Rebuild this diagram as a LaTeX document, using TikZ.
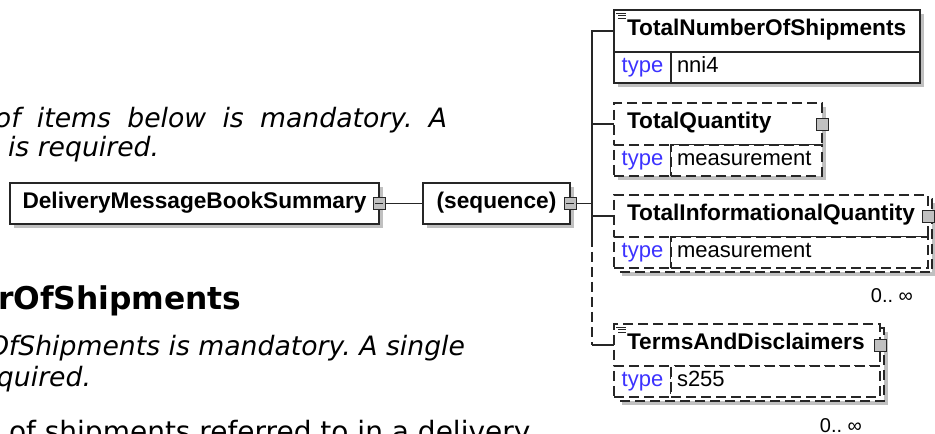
\documentclass[tikz,border=0pt]{standalone}
\usepackage{fontspec}
\setmainfont{Liberation Sans}
\newfontfamily\notefont{DejaVu Sans}
\usepackage{tikz}
\usetikzlibrary{positioning, backgrounds}

\definecolor{shadowgray}{RGB}{192,192,192}
\definecolor{btngray}{RGB}{192,192,192}
\definecolor{typeblue}{RGB}{60,50,255}

\begin{document}
\frenchspacing
\begin{tikzpicture}[
    x=0.75pt, y=-0.75pt,
    every node/.style={outer sep=0pt},
    box/.style={draw=black!85, fill=white, line width=0.9pt, text height=11.5pt, text depth=4pt,
                font=\fontsize{17}{19}\selectfont\bfseries},
    root/.style={box, minimum height=30.75pt, inner sep=0pt},
    hdr/.style={box, anchor=north west, minimum height=31.5pt, inner xsep=9.75pt, inner ysep=0pt,
                text width=#1, align=left},
    typ/.style={draw=black!85, fill=white, line width=0.9pt, anchor=north west, minimum width=42.75pt,
                minimum height=23.25pt, inner sep=0pt, text height=11.5pt, text depth=4pt,
                text=typeblue, font=\fontsize{16.5}{18}\selectfont},
    val/.style={draw=black!85, fill=white, line width=0.9pt, anchor=north west, minimum height=23.25pt,
                inner xsep=4.5pt, inner ysep=0pt, text height=11.5pt, text depth=4pt,
                text width=#1, align=left, font=\fontsize{16.5}{18}\selectfont},
    opt/.style={dash pattern=on 7.5pt off 3.75pt},
    btn/.style={draw=black!85, fill=btngray, line width=0.7pt, minimum size=9pt, inner sep=0pt},
    btnminus/.style={btn, path picture={\draw[line width=0.6pt]
                ([xshift=1.5pt]path picture bounding box.west) -- ([xshift=-1.5pt]path picture bounding box.east);}},
    wire/.style={draw=black!85, line width=0.9pt},
    shadowbox/.style={fill=shadowgray},
    docline/.style={draw=black!85, line width=0.6pt},
    mult/.style={anchor=base east, inner sep=0pt, font=\fontsize{15}{17}\selectfont},
    note/.style={anchor=base west, inner sep=0pt, font=\notefont\fontsize{20}{23}\selectfont\itshape},
    notehead/.style={note, font=\notefont\fontsize{23.5}{26}\selectfont\bfseries},
    plain/.style={note, font=\notefont\fontsize{21}{24}\selectfont},
]
\useasboundingbox (0,0) rectangle (935,434);

% --- Notes (left, cut by the frame) ---
\node[note]     (note1) at (-5,128)  {\makebox[339pt][s]{of items below is mandatory. A}};
\node[note]     (note2) at (8,157)   {is required.};
\node[notehead] (head)  at (-2,310)  {rOfShipments};
\node[note]     (desc1) at (-12,356) {OfShipments is mandatory. A single};
\node[note]     (desc2) at (-3,387)  {quired.};
\node[plain]    (desc3) at (9,441)   {of shipments referred to in a delivery};

% --- Root and sequence ---
\node[root, minimum width=276.75pt]               (dmbs) at (194.5,203.5) {DeliveryMessageBookSummary};
\node[root, minimum width=110.25pt, right=33pt of dmbs] (seq) {(sequence)};
\node[btnminus] (dmbsbtn) at (dmbs.east) {};
\node[btnminus] (seqbtn)  at (seq.east)  {};
\coordinate[right=12pt of seqbtn.east] (jn);

% --- Child elements ---
\node[hdr=210pt]        (tnos)  at (614,10)          {TotalNumberOfShipments};
\node[typ]              (tnosT) at (tnos.south west) {type};
\node[val=177.75pt]     (tnosV) at (tnosT.north east) {nni4};

\node[hdr=136.5pt, opt] (tq)    at (614,103)         {TotalQuantity};
\node[typ, opt]         (tqT)   at (tq.south west)   {type};
\node[val=104.25pt, opt] (tqV)  at (tqT.north east)  {measurement};
\node[btn]              (tqbtn) at (tq.east)         {};

\node[hdr=216pt, opt]   (tiq)   at (614,195)         {TotalInformationalQuantity};
\node[typ, opt]         (tiqT)  at (tiq.south west)  {type};
\node[val=183.75pt, opt] (tiqV) at (tiqT.north east) {measurement};
\node[btn]              (tiqbtn) at (tiq.east)       {};

\node[hdr=180pt, opt]   (tad)   at (614,324)         {TermsAndDisclaimers};
\node[typ, opt]         (tadT)  at (tad.south west)  {type};
\node[val=147.75pt, opt] (tadV) at (tadT.north east) {s255};
\node[btn]              (tadbtn) at (tad.east)       {};

\node[mult] (tiqM) at ([shift={(-15,35)}]tiqV.south east) {0.. ∞};
\node[mult] (tadM) at ([shift={(-18,35)}]tadV.south east) {0.. ∞};

% doc marks
\foreach \el in {tnos, tad}
  \foreach \dx/\dy in {2/3, 4/5.5, 4/8}
    \draw[docline] ([shift={(\dx,\dy)}]\el.north west) -- ([shift={(12,\dy)}]\el.north west);

% --- Connectors ---
\coordinate (brk) at (jn |- tiq.south);
\draw[wire] (dmbsbtn.east) -- (seq.west);
\draw[wire] (seqbtn.east) -- (jn);
\draw[wire] (tnos.west) -| (brk);
\draw[wire] (jn |- tq.west) -- (tq.west);
\draw[wire] (jn |- tiq.west) -- (tiq.west);
\draw[wire, opt] (brk) -- (jn |- tad.west);
\draw[wire] (jn |- tad.west) -- (tad.west);

% --- Shadows and stacked boxes ---
\begin{scope}[on background layer]
  \fill[white] (0,0) rectangle (935,434);
  \fill[shadowbox] ([shift={(4,4)}]dmbs.north west) rectangle ([shift={(4,4)}]dmbs.south east);
  \fill[shadowbox] ([shift={(4,4)}]seq.north west)  rectangle ([shift={(4,4)}]seq.south east);
  \fill[shadowbox] ([shift={(4,4)}]tnos.north west) rectangle ([shift={(4,4)}]tnosV.south east);
  \fill[shadowbox] ([shift={(4,4)}]tq.north west)   rectangle ([shift={(4,4)}]tqV.south east);
  \fill[shadowbox] ([shift={(8,8)}]tiq.north west)  rectangle ([shift={(8,8)}]tiqV.south east);
  \draw[wire, opt, fill=white] ([shift={(4,4)}]tiq.north west) rectangle ([shift={(4,4)}]tiqV.south east);
  \fill[shadowbox] ([shift={(8,8)}]tad.north west)  rectangle ([shift={(8,8)}]tadV.south east);
  \draw[wire, opt, fill=white] ([shift={(4,4)}]tad.north west) rectangle ([shift={(4,4)}]tadV.south east);
\end{scope}
\end{tikzpicture}
\end{document}
